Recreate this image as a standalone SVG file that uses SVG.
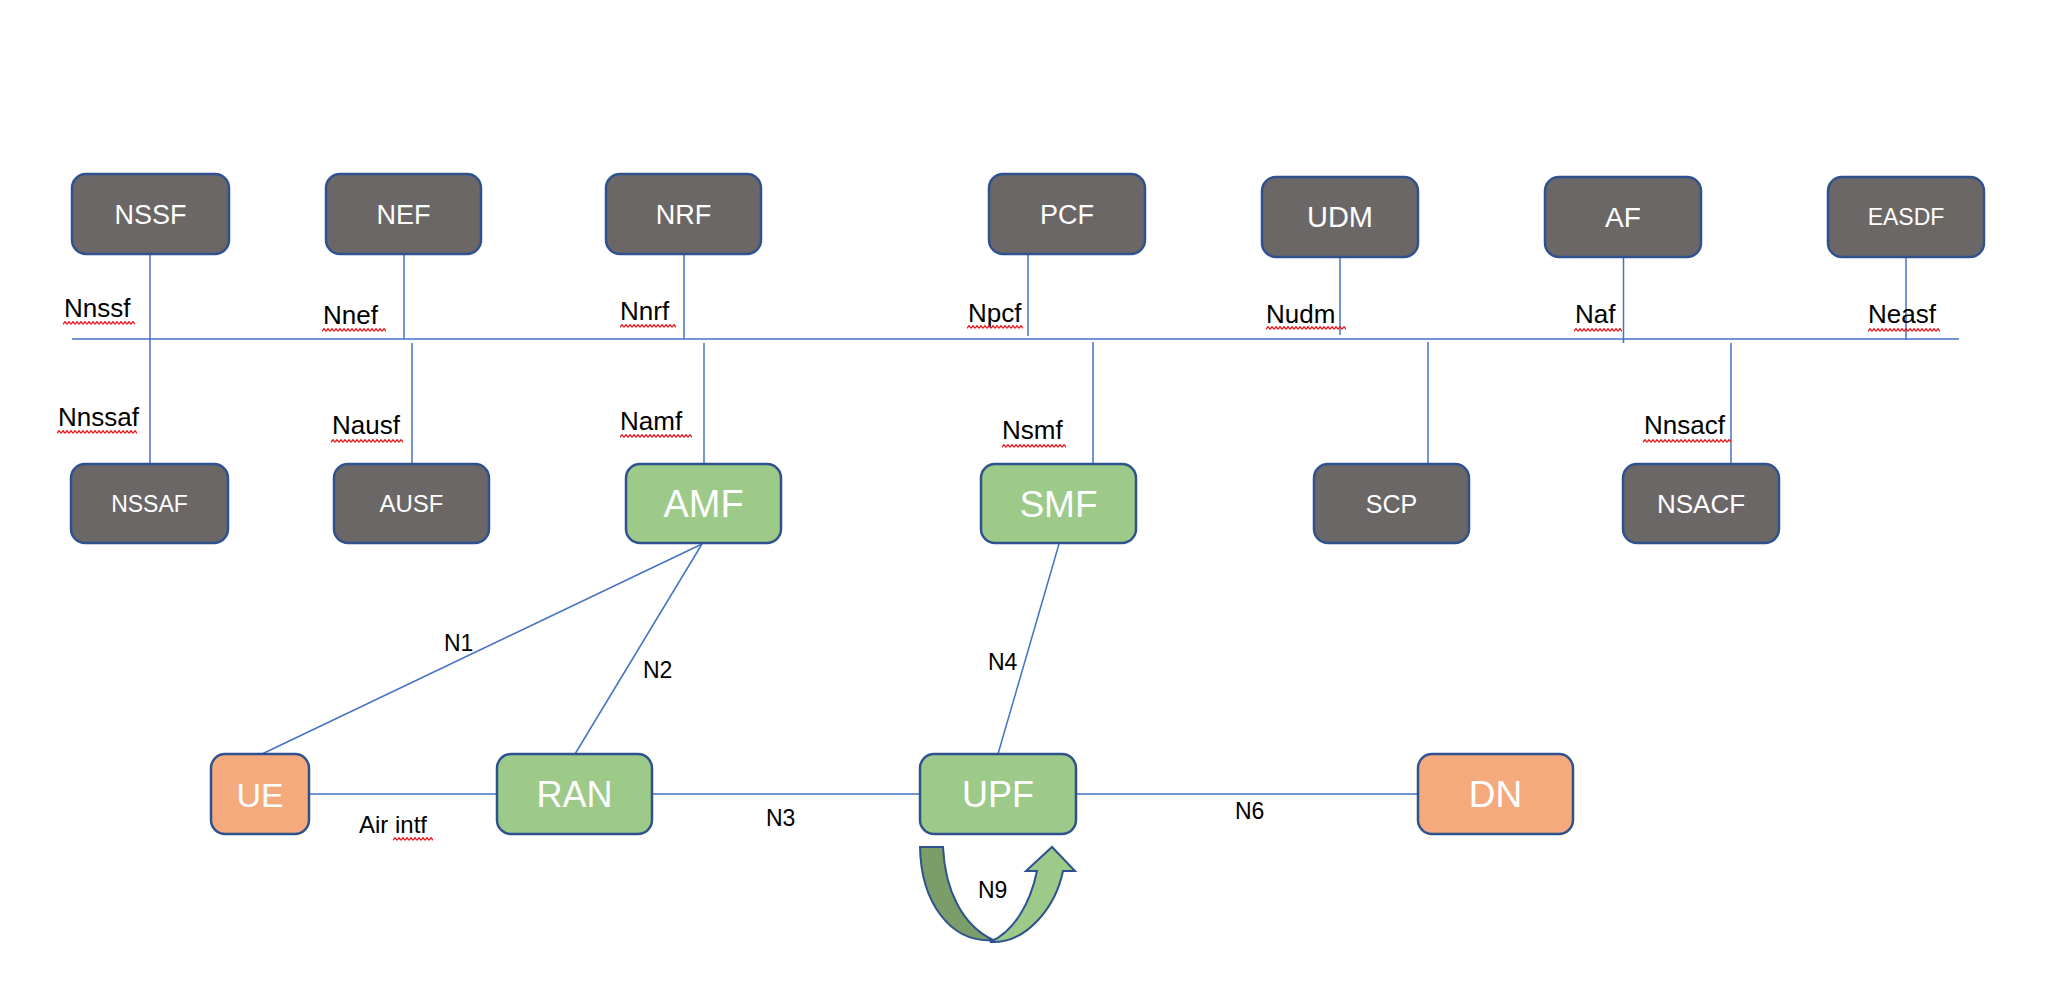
<svg xmlns="http://www.w3.org/2000/svg" width="2048" height="1002" viewBox="0 0 2048 1002">
<defs>
<pattern id="sq" width="4" height="4" patternUnits="userSpaceOnUse"><path d="M0,3.3 L2,0.7 L4,3.3" fill="none" stroke="#e8141c" stroke-width="1.3"/></pattern>
</defs>
<style>
.gray{fill:#6b6766;stroke:#2f528f;stroke-width:2.5}
.green{fill:#9dca89;stroke:#2f528f;stroke-width:2.5}
.orange{fill:#f4aa7d;stroke:#2f528f;stroke-width:2.5}
.nt{font-family:"Liberation Sans",Arial,sans-serif;fill:#fff;text-anchor:middle;font-size:27px}
.bt{font-family:"Liberation Sans",Arial,sans-serif;fill:#fff;text-anchor:middle;font-size:36px}
.lbl{font-family:"Liberation Sans",Arial,sans-serif;fill:#000;font-size:26px}
.nl{font-family:"Liberation Sans",Arial,sans-serif;fill:#000;font-size:23px}
.ln{stroke:#4472c4;stroke-width:1.5;fill:none}
</style>
<rect width="2048" height="1002" fill="#fff"/>
<g id="connectors">
<line class="ln" x1="72" y1="339" x2="1959" y2="339"/>
<line class="ln" x1="150" y1="254" x2="150" y2="464"/>
<line class="ln" x1="404" y1="254" x2="404" y2="339"/>
<line class="ln" x1="412" y1="343" x2="412" y2="464"/>
<line class="ln" x1="684" y1="254" x2="684" y2="339"/>
<line class="ln" x1="704" y1="343" x2="704" y2="464"/>
<line class="ln" x1="1028" y1="254" x2="1028" y2="336"/>
<line class="ln" x1="1093" y1="342" x2="1093" y2="464"/>
<line class="ln" x1="1340" y1="257" x2="1340" y2="335"/>
<line class="ln" x1="1428" y1="342" x2="1428" y2="464"/>
<line class="ln" x1="1623.5" y1="257" x2="1623.5" y2="343"/>
<line class="ln" x1="1731" y1="343" x2="1731" y2="464"/>
<line class="ln" x1="1906" y1="257" x2="1906" y2="340"/>
<line class="ln" x1="702" y1="544" x2="262" y2="754"/>
<line class="ln" x1="702" y1="544" x2="575" y2="754"/>
<line class="ln" x1="1059" y1="544" x2="998" y2="754"/>
<line class="ln" x1="309" y1="794" x2="497" y2="794"/>
<line class="ln" x1="652" y1="794" x2="920" y2="794"/>
<line class="ln" x1="1076" y1="794" x2="1418" y2="794"/>
<g id="n9-arrow">
<path d="M920,847 L943,847 C945,890 962,925 993,940 C950,943 921,902 920,847 Z" fill="#7b9d69" stroke="#2f528f" stroke-width="2"/>
<path d="M990,942 C1028,944 1056,905 1063,871 L1075,871 L1052,847 L1026,871 L1037,871 C1030,905 1013,932 990,942 Z" fill="#9dca89" stroke="#2f528f" stroke-width="2"/>
</g>
</g>
<g id="labels">
<text class="lbl" x="64" y="317">Nnssf</text>
<text class="lbl" x="323" y="324">Nnef</text>
<text class="lbl" x="620" y="320">Nnrf</text>
<text class="lbl" x="968" y="322">Npcf</text>
<text class="lbl" x="1266" y="323">Nudm</text>
<text class="lbl" x="1575" y="323">Naf</text>
<text class="lbl" x="1868" y="323">Neasf</text>
<text class="lbl" x="58" y="426">Nnssaf</text>
<text class="lbl" x="332" y="434">Nausf</text>
<text class="lbl" x="620" y="430">Namf</text>
<text class="lbl" x="1002" y="439">Nsmf</text>
<text class="lbl" x="1644" y="434">Nnsacf</text>
<text class="nl" x="444" y="651">N1</text>
<text class="nl" x="643" y="678">N2</text>
<text class="nl" x="766" y="826">N3</text>
<text class="nl" x="988" y="670">N4</text>
<text class="nl" x="1235" y="819">N6</text>
<text class="nl" x="978" y="898">N9</text>
<text class="lbl" x="359" y="833" style="font-size:24px">Air intf</text>
<g id="squiggles">
<rect transform="translate(63,321)" width="72" height="4" fill="url(#sq)"/>
<rect transform="translate(322,328)" width="64" height="4" fill="url(#sq)"/>
<rect transform="translate(620,324)" width="56" height="4" fill="url(#sq)"/>
<rect transform="translate(967,325)" width="56" height="4" fill="url(#sq)"/>
<rect transform="translate(1266,326)" width="80" height="4" fill="url(#sq)"/>
<rect transform="translate(1574,328)" width="48" height="4" fill="url(#sq)"/>
<rect transform="translate(1868,328)" width="72" height="4" fill="url(#sq)"/>
<rect transform="translate(57,430)" width="80" height="4" fill="url(#sq)"/>
<rect transform="translate(331,439)" width="72" height="4" fill="url(#sq)"/>
<rect transform="translate(620,434)" width="72" height="4" fill="url(#sq)"/>
<rect transform="translate(1002,444)" width="64" height="4" fill="url(#sq)"/>
<rect transform="translate(1643,439)" width="88" height="4" fill="url(#sq)"/>
<rect transform="translate(393,837)" width="40" height="4" fill="url(#sq)"/>
</g>
</g>
<g id="NSSF"><rect class="gray" x="72" y="174" width="157" height="80" rx="14"/><text class="nt" x="150.5" y="224">NSSF</text></g>
<g id="NEF"><rect class="gray" x="326" y="174" width="155" height="80" rx="14"/><text class="nt" x="403.5" y="224">NEF</text></g>
<g id="NRF"><rect class="gray" x="606" y="174" width="155" height="80" rx="14"/><text class="nt" x="683.5" y="224">NRF</text></g>
<g id="PCF"><rect class="gray" x="989" y="174" width="156" height="80" rx="14"/><text class="nt" x="1067" y="224">PCF</text></g>
<g id="UDM"><rect class="gray" x="1262" y="177" width="156" height="80" rx="14"/><text class="nt" x="1340" y="227" style="font-size:29px">UDM</text></g>
<g id="AF"><rect class="gray" x="1545" y="177" width="156" height="80" rx="14"/><text class="nt" x="1623" y="227" style="font-size:28px">AF</text></g>
<g id="EASDF"><rect class="gray" x="1828" y="177" width="156" height="80" rx="14"/><text class="nt" x="1906" y="225" style="font-size:23px">EASDF</text></g>
<g id="NSSAF"><rect class="gray" x="71" y="464" width="157" height="79" rx="14"/><text class="nt" x="149.5" y="512" style="font-size:23px">NSSAF</text></g>
<g id="AUSF"><rect class="gray" x="334" y="464" width="155" height="79" rx="14"/><text class="nt" x="411.5" y="512" style="font-size:24px">AUSF</text></g>
<g id="AMF"><rect class="green" x="626" y="464" width="155" height="79" rx="14"/><text class="bt" x="703.5" y="517" style="font-size:38px">AMF</text></g>
<g id="SMF"><rect class="green" x="981" y="464" width="155" height="79" rx="14"/><text class="bt" x="1058.5" y="517" style="font-size:37px">SMF</text></g>
<g id="SCP"><rect class="gray" x="1314" y="464" width="155" height="79" rx="14"/><text class="nt" x="1391.5" y="513" style="font-size:25px">SCP</text></g>
<g id="NSACF"><rect class="gray" x="1623" y="464" width="156" height="79" rx="14"/><text class="nt" x="1701" y="513" style="font-size:26px">NSACF</text></g>
<g id="UE"><rect class="orange" x="211" y="754" width="98" height="80" rx="14"/><text class="bt" x="260" y="807" style="font-size:34px">UE</text></g>
<g id="RAN"><rect class="green" x="497" y="754" width="155" height="80" rx="14"/><text class="bt" x="574.5" y="807">RAN</text></g>
<g id="UPF"><rect class="green" x="920" y="754" width="156" height="80" rx="14"/><text class="bt" x="998" y="807">UPF</text></g>
<g id="DN"><rect class="orange" x="1418" y="754" width="155" height="80" rx="14"/><text class="bt" x="1495.5" y="807" style="font-size:37px">DN</text></g>
</svg>
